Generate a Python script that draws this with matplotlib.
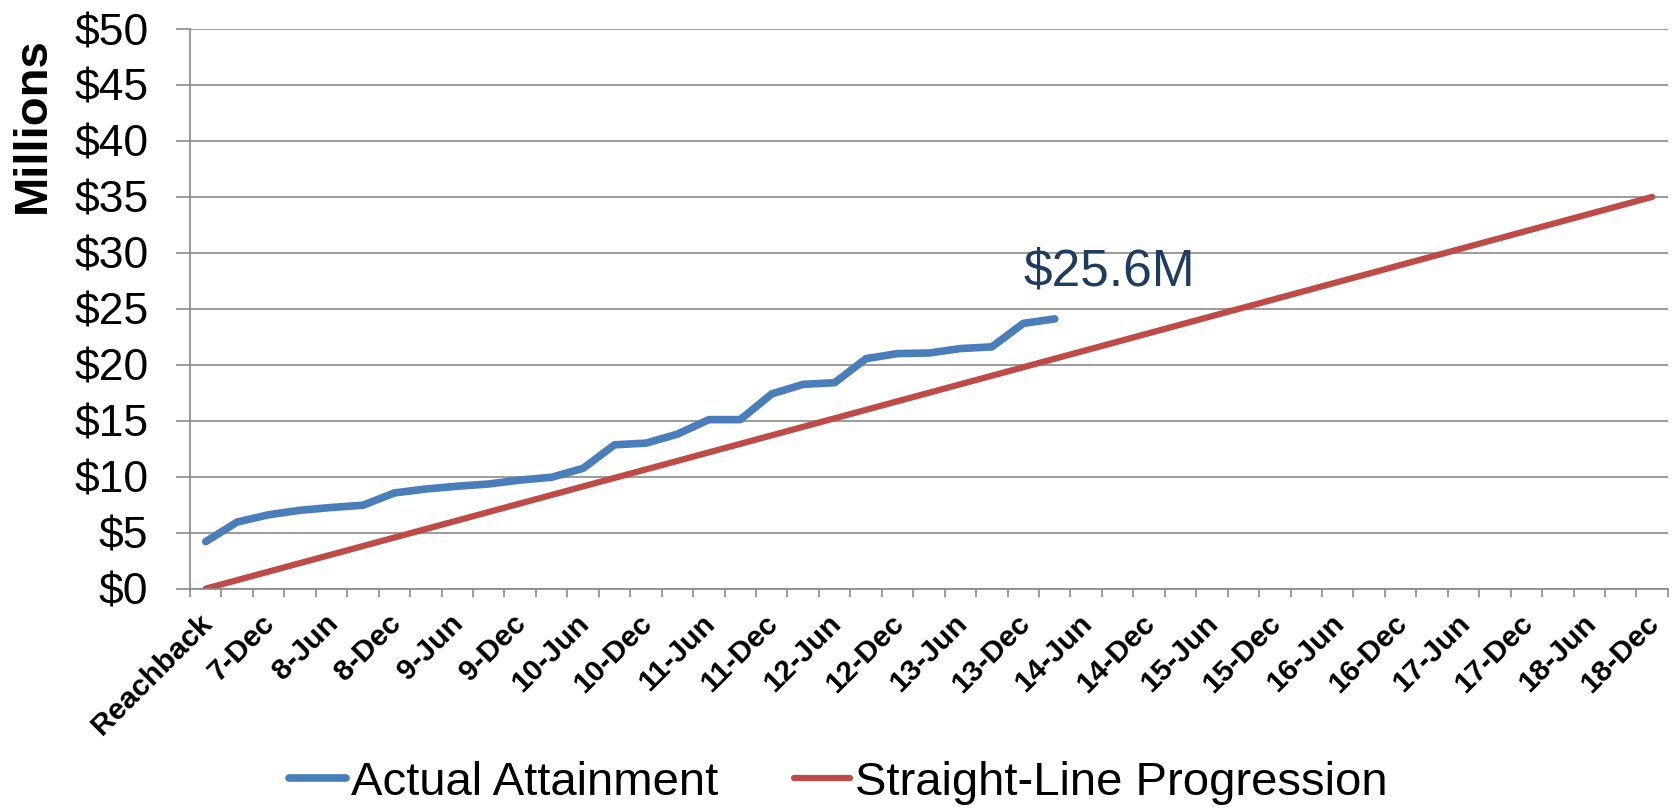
import matplotlib
matplotlib.use("Agg")
import matplotlib.pyplot as plt
from matplotlib.transforms import ScaledTranslation

plt.rcParams['font.family'] = ['Liberation Sans', 'DejaVu Sans']

# quarterly categories, only every second one is labelled
categories = ["Reachback", "7-Sep", "7-Dec",
              "8-Mar", "8-Jun", "8-Sep", "8-Dec",
              "9-Mar", "9-Jun", "9-Sep", "9-Dec",
              "10-Mar", "10-Jun", "10-Sep", "10-Dec",
              "11-Mar", "11-Jun", "11-Sep", "11-Dec",
              "12-Mar", "12-Jun", "12-Sep", "12-Dec",
              "13-Mar", "13-Jun", "13-Sep", "13-Dec",
              "14-Mar", "14-Jun", "14-Sep", "14-Dec",
              "15-Mar", "15-Jun", "15-Sep", "15-Dec",
              "16-Mar", "16-Jun", "16-Sep", "16-Dec",
              "17-Mar", "17-Jun", "17-Sep", "17-Dec",
              "18-Mar", "18-Jun", "18-Sep", "18-Dec"]

# actual attainment ($M), one value per quarter from Reachback to 14-Mar
actual = [4.2, 5.95, 6.6, 7.0, 7.25, 7.45, 8.55, 8.9, 9.15, 9.35,
          9.7, 9.95, 10.75, 12.85, 13.0, 13.8, 15.1, 15.1, 17.4, 18.25,
          18.4, 20.55, 21.0, 21.05, 21.45, 21.6, 23.7, 24.1]

# straight-line progression: start and end of the line
straight_cats = ["Reachback", "18-Dec"]
straight_vals = [0, 35]

annot_text = "$25.6M"
annot_cat = "13-Dec"
annot_val = 27.1

yticks = [0, 5, 10, 15, 20, 25, 30, 35, 40, 45, 50]

blue = "#4A7EBB"
red = "#BE4B48"
grey = "#8A8A8A"

fig = plt.figure(figsize=(16.77, 8.08), dpi=100)
ax = fig.add_axes([0.1133, 0.2715, 0.8813, 0.6926])

x_actual = list(range(len(actual)))
x_straight = [categories.index(c) for c in straight_cats]

ax.plot(x_actual, actual, color=blue, lw=5.5, solid_capstyle='round',
        solid_joinstyle='round', label="Actual Attainment", zorder=3)
ax.plot(x_straight, straight_vals, color=red, lw=4.5, solid_capstyle='round',
        label="Straight-Line Progression", zorder=2)

ax.text(categories.index(annot_cat), annot_val, annot_text, color="#1F3B5E",
        fontsize=37, ha='left', va='baseline')

ax.set_xlim(-0.5, len(categories) - 0.5)
ax.set_ylim(0, 50)

ax.set_yticks(yticks)
ax.set_yticklabels(["$%d" % v for v in yticks], fontsize=32)
ax.yaxis.grid(True, color=grey, lw=1.2)
ax.set_axisbelow(True)
ax.tick_params(axis='y', length=10, width=1.2, color=grey, pad=20)

major = list(range(0, len(categories), 2))
ax.set_xticks(major)
ax.set_xticklabels([categories[i] for i in major], fontsize=21.5,
                   fontweight='bold', rotation=45, ha='right',
                   rotation_mode='anchor')
ax.set_xticks([i - 0.5 for i in range(len(categories) + 1)], minor=True)
ax.tick_params(axis='x', which='major', length=0, pad=15)
ax.tick_params(axis='x', which='minor', length=6, width=1.2, color=grey)
offset = ScaledTranslation(-0.08, 0, fig.dpi_scale_trans)
for lab in ax.get_xticklabels():
    lab.set_transform(lab.get_transform() + offset)

for s in ('top', 'right'):
    ax.spines[s].set_visible(False)
for s in ('left', 'bottom'):
    ax.spines[s].set_color(grey)
    ax.spines[s].set_linewidth(1.2)

fig.text(33 / 1677, 1 - 125 / 808, "Millions", rotation=90, fontsize=34,
         fontweight='bold', ha='center', va='center')

leg = fig.legend(loc='center', bbox_to_anchor=(0.5, 0.031), ncol=2,
                 frameon=False, fontsize=34, handlelength=1.2,
                 handletextpad=0.1, columnspacing=1.6)

fig.savefig("out.png", dpi=100)
